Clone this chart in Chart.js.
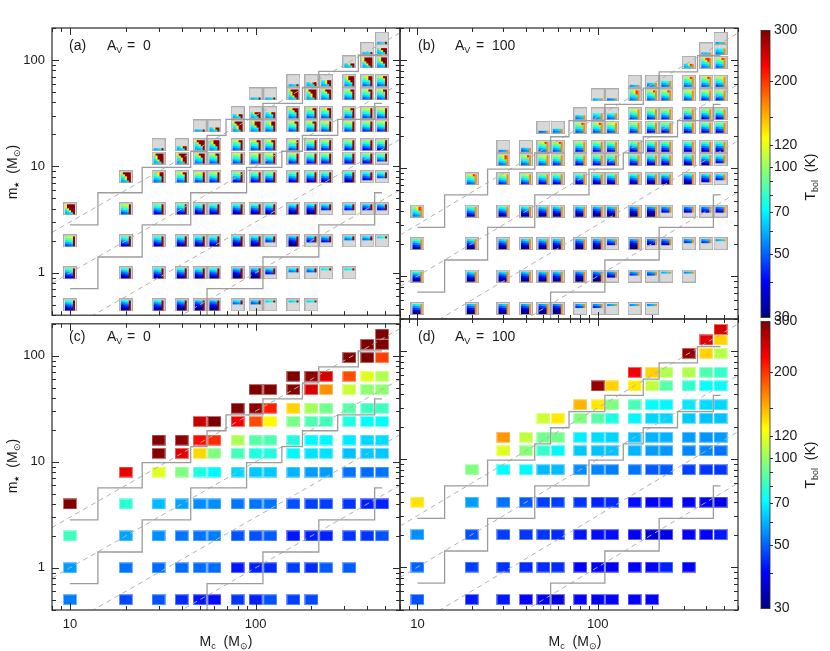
<!DOCTYPE html>
<html lang="en">
<head>
<meta charset="UTF-8">
<title>Tbol grid</title>
<script src="https://cdn.jsdelivr.net/npm/chart.js"></script>
<style>
  body { margin: 0; background: #fff; }
  #wrap { position: relative; width: 830px; height: 651px; font-family: "Liberation Sans", Arial, sans-serif; color: #1a1a1a; }
  canvas { position: absolute; }
  .lbl { position: absolute; font-size: 14px; line-height: 16px; white-space: nowrap; z-index: 5; }
  .lbl sub { font-size: 9px; vertical-align: -3px; line-height: 0; }
  .ttl { position: absolute; width: 120px; height: 20px; line-height: 20px; text-align: center; font-size: 14px; white-space: nowrap; z-index: 5; }
  .ttl sub { font-size: 9px; vertical-align: -3px; line-height: 0; }
  .ttl sub.star { font-size: 7px; vertical-align: -2px; }
  .rot { transform: rotate(-90deg); }
</style>
</head>
<body>
<div id="wrap">
  <canvas id="pa" width="410" height="330" style="left:0;top:0"></canvas>
  <canvas id="pb" width="370" height="330" style="left:390px;top:0"></canvas>
  <canvas id="pc" width="410" height="342" style="left:0;top:309px"></canvas>
  <canvas id="pd" width="370" height="342" style="left:390px;top:309px"></canvas>
  <canvas id="cb1" width="78" height="312" style="left:752px;top:18px"></canvas>
  <canvas id="cb2" width="78" height="312" style="left:752px;top:309px"></canvas>

  <div class="lbl" style="left:69px;top:37px">(a)</div>
  <div class="lbl" style="left:107px;top:37px">A<sub>V</sub></div>
  <div class="lbl" style="left:127px;top:37px">=</div>
  <div class="lbl" style="left:143px;top:37px">0</div>
  <div class="lbl" style="left:418px;top:37px">(b)</div>
  <div class="lbl" style="left:455px;top:37px">A<sub>V</sub></div>
  <div class="lbl" style="left:476px;top:37px">=</div>
  <div class="lbl" style="left:492px;top:37px">100</div>
  <div class="lbl" style="left:69px;top:328px">(c)</div>
  <div class="lbl" style="left:107px;top:328px">A<sub>V</sub></div>
  <div class="lbl" style="left:127px;top:328px">=</div>
  <div class="lbl" style="left:143px;top:328px">0</div>
  <div class="lbl" style="left:418px;top:328px">(d)</div>
  <div class="lbl" style="left:455px;top:328px">A<sub>V</sub></div>
  <div class="lbl" style="left:476px;top:328px">=</div>
  <div class="lbl" style="left:492px;top:328px">100</div>

  <div class="ttl" style="left:166px;top:631px">M<sub>c</sub>&nbsp; (M<sub>⊙</sub>)</div>
  <div class="ttl" style="left:515px;top:631px">M<sub>c</sub>&nbsp; (M<sub>⊙</sub>)</div>
  <div class="ttl rot" style="left:-48px;top:162px">m<sub class="star">★</sub>&nbsp; (M<sub>⊙</sub>)</div>
  <div class="ttl rot" style="left:-48px;top:456px">m<sub class="star">★</sub>&nbsp; (M<sub>⊙</sub>)</div>
  <div class="ttl rot" style="left:750px;top:167px">T<sub>bol</sub>&nbsp; (K)</div>
  <div class="ttl rot" style="left:750px;top:455px">T<sub>bol</sub>&nbsp; (K)</div>
</div>

<script>
// grid of models
const massCore = [10, 20, 30, 40, 50, 60, 80, 100, 120, 160, 200, 240, 320, 400, 480];
const massStar = [0.5, 1, 2, 4, 8, 12, 16, 24, 32, 48, 64, 96, 128, 160];
// lowest / highest m* present in each Mc column
const rowFirst = [0.5, 0.5, 0.5, 0.5, 0.5, 0.5, 0.5, 0.5, 0.5, 0.5, 0.5, 1, 1, 2, 2];
const rowLast = [4, 8, 16, 16, 24, 24, 32, 48, 48, 64, 64, 64, 96, 128, 160];

// Tbol (K) per Mc column, from lowest to highest m*
const tbolAv0 = [
  [53, 57, 82, 300],
  [47, 52, 58, 78, 235],
  [48, 51, 55, 61, 118, 295, 295],
  [44, 51, 52, 58, 95, 240, 290],
  [42, 51, 52, 55, 76, 138, 220, 255],
  [41, 51, 53, 55, 70, 95, 205, 300],
  [45, 42, 48, 52, 65, 83, 105, 230, 300],
  [43, 43, 48, 52, 63, 76, 87, 190, 290, 300],
  [48, 44, 49, 52, 63, 76, 85, 128, 210, 300],
  [46, 46, 42, 48, 60, 70, 76, 93, 140, 295, 300],
  [47, 44, 43, 46, 57, 67, 70, 85, 103, 245, 290],
  [49, 43, 46, 57, 67, 70, 82, 92, 162, 245],
  [49, 45, 45, 52, 62, 68, 76, 87, 112, 190, 300],
  [45, 43, 51, 63, 65, 71, 82, 98, 118, 300, 300],
  [48, 43, 52, 63, 66, 71, 82, 98, 106, 195, 300, 300]
];
const tbolAv100 = [
  [48, 50, 55, 135],
  [42, 46, 48, 57, 95],
  [42, 45, 46, 52, 71, 118, 160],
  [40, 44, 45, 49, 70, 97, 110],
  [39, 44, 45, 46, 61, 80, 92, 113],
  [37, 44, 44, 46, 61, 70, 92, 132],
  [40, 40, 42, 45, 55, 63, 69, 95, 150],
  [39, 39, 41, 43, 54, 62, 66, 87, 133, 285],
  [40, 39, 41, 44, 53, 62, 65, 76, 95, 140],
  [40, 40, 39, 41, 52, 60, 62, 70, 84, 133, 230],
  [40, 40, 37, 40, 49, 57, 60, 65, 71, 110, 140],
  [43, 38, 41, 49, 56, 60, 65, 70, 87, 106],
  [40, 40, 39, 46, 54, 57, 63, 68, 79, 106, 285],
  [40, 39, 45, 54, 56, 62, 66, 72, 85, 140, 240],
  [42, 38, 45, 52, 57, 62, 65, 71, 80, 107, 140, 245]
];

// time-sampled cells only partly covered: [Mc, m*, rows of 5, side]
const partialCells = [
  [30, 16, 1, 'bottom'], [40, 16, 2, 'bottom'], [50, 24, 1, 'bottom'], [60, 24, 2, 'bottom'],
  [80, 32, 2, 'bottom'], [100, 32, 3, 'bottom'], [120, 32, 3, 'bottom'], [100, 48, 1, 'bottom'],
  [120, 48, 1, 'bottom'], [160, 64, 1, 'bottom'], [200, 64, 2, 'bottom'], [240, 64, 3, 'bottom'],
  [320, 96, 2, 'bottom'], [400, 128, 1, 'bottom'], [480, 160, 1, 'bottom'], [480, 128, 3, 'bottom'],
  [80, 0.5, 2, 'top'], [100, 0.5, 2, 'top'], [120, 0.5, 1, 'top'], [160, 0.5, 1, 'top'], [200, 0.5, 1, 'top'],
  [120, 1, 3, 'top'], [160, 1, 2, 'top'], [200, 1, 2, 'top'], [240, 1, 1, 'top'], [320, 1, 1, 'top'],
  [120, 2, 3, 'top'], [200, 2, 3, 'top'], [240, 2, 3, 'top'], [320, 2, 2, 'top'], [400, 2, 2, 'top'], [480, 2, 1, 'top'],
  [240, 4, 3, 'top'], [320, 4, 3, 'top'], [400, 4, 3, 'top'], [480, 4, 3, 'top'],
  [400, 8, 4, 'top'], [480, 8, 3, 'top'], [480, 12, 4, 'top']
];

// stepped boundaries (m* level per Mc column)
const stairUpper = [2.83, 5.66, 9.8, 9.8, 13.9, 19.6, 27.7, 27.7, 39.2, 39.2, 55.4, 78.4, 78.4, 110.9, 110.9];
const stairMiddle = [0.71, 1.41, 2.83, 2.83, 5.66, 5.66, 5.66, 9.8, 9.8, 13.9, 19.6, 19.6, 27.7, 27.7, 39.2];
const stairLower = [0.35, 0.35, 0.35, 0.35, 0.35, 0.71, 0.71, 0.71, 1.41, 1.41, 1.41, 2.83, 2.83, 2.83, 5.66];
// dashed lines m* = eff * Mc
const effLines = [0.3, 0.1, 0.03, 0.01];

const xRange = [8, 600];
const yRange = [0.4, 200];
const xLabels = [10, 100];
const yLabels = [1, 10, 100];
const cbarRange = [30, 300];
const cbarLabels = [30, 50, 70, 100, 120, 200, 300];
const cbarMinor = [40, 60, 80, 90, 150];

const FONT = "'Liberation Sans', Arial, sans-serif";

function clamp(v) { return Math.max(0, Math.min(1, v)); }
function jet(u) {
  return [clamp(1.5 - Math.abs(4 * u - 3)), clamp(1.5 - Math.abs(4 * u - 2)), clamp(1.5 - Math.abs(4 * u - 1))]
    .map(v => Math.round(v * 255));
}
function rgb(c) { return 'rgb(' + c.join(',') + ')'; }
function tpos(t) { return clamp(Math.log(t / cbarRange[0]) / Math.log(cbarRange[1] / cbarRange[0])); }

function cellsFor(tbol) {
  const pts = [], temps = [];
  massCore.forEach((mc, k) => {
    const rows = massStar.filter(m => m >= rowFirst[k] && m <= rowLast[k]);
    rows.forEach((ms, r) => { pts.push({x: mc, y: ms}); temps.push(tbol[k][r]); });
  });
  return {pts, temps};
}

const fillMap = {};
partialCells.forEach(p => { fillMap[p[0] + '|' + p[1]] = {n: p[2], side: p[3]}; });

function squareCell(t) {
  const c = document.createElement('canvas');
  c.width = 14; c.height = 11;
  const g = c.getContext('2d');
  const col = jet(tpos(t));
  g.fillStyle = rgb(col);
  g.fillRect(0, 0, 14, 11);
  g.strokeStyle = rgb(col.map(v => Math.round(v + (255 - v) * 0.45)));
  g.strokeRect(0.5, 0.5, 13, 10);
  return c;
}

// small time-sampled map drawn inside a grey box
function miniCell(t0, fill, av) {
  const c = document.createElement('canvas');
  c.width = 14; c.height = 13;
  const g = c.getContext('2d');
  g.fillStyle = '#d8d8d8';
  g.fillRect(0, 0, 14, 13);
  g.strokeStyle = '#acacac';
  g.strokeRect(0.5, 0.5, 13, 12);
  const u0 = tpos(t0), w = Math.max(0, (u0 - 0.35) / 0.65);
  const hotU = av === 0 ? 1 : 0.84, edgeU = av === 0 ? 0.98 : 0.74;
  const step = 0.09 - 0.05 * w;
  for (let i = 0; i < 5; i++) {
    const shown = fill.side === 'top' ? i < fill.n : i >= 5 - fill.n;
    if (!shown) continue;
    const base = Math.min(u0, 0.4) + step * (1.5 - i);
    const nHot = Math.max(0, Math.min(3, Math.round(w * 3.2 - i * 0.7)));
    for (let j = 0; j < 5; j++) {
      let u;
      if (j === 4) u = edgeU;
      else if (j >= 4 - nHot) u = hotU;
      else if (nHot > 0 && j === 3 - nHot) u = 0.64;
      else u = base + 0.02 * j;
      g.fillStyle = rgb(jet(clamp(u)));
      g.fillRect(2 + j * 2, 2 + i * 2, 2, 2);
    }
  }
  return c;
}

function logSteps(min, max) {
  const out = [];
  for (let e = Math.floor(Math.log10(min)); e <= Math.ceil(Math.log10(max)); e++) {
    for (let m = 1; m <= 9; m++) {
      const v = m * Math.pow(10, e);
      if (v >= min * 0.999 && v <= max * 1.001) out.push({v, major: m === 1});
    }
  }
  return out;
}

const frameTicks = {
  id: 'frameTicks',
  afterDraw(chart) {
    const {ctx, chartArea: a} = chart;
    const xs = chart.scales.x, ys = chart.scales.y;
    ctx.save();
    ctx.strokeStyle = '#2a2a2a';
    ctx.lineWidth = 1;
    ctx.beginPath();
    logSteps(xs.min, xs.max).forEach(t => {
      const px = Math.round(xs.getPixelForValue(t.v)) + 0.5, len = t.major ? 7 : 4;
      ctx.moveTo(px, a.top); ctx.lineTo(px, a.top + len);
      ctx.moveTo(px, a.bottom); ctx.lineTo(px, a.bottom - len);
    });
    logSteps(ys.min, ys.max).forEach(t => {
      const py = Math.round(ys.getPixelForValue(t.v)) + 0.5, len = t.major ? 7 : 4;
      ctx.moveTo(a.left, py); ctx.lineTo(a.left + len, py);
      ctx.moveTo(a.right, py); ctx.lineTo(a.right - len, py);
    });
    ctx.stroke();
    ctx.lineWidth = 1.2;
    ctx.strokeRect(a.left, a.top, a.right - a.left, a.bottom - a.top);
    ctx.restore();
  }
};

function makePanel(id, tbol, mini, av, showX, showY, pad) {
  const cells = cellsFor(tbol);
  const imgs = cells.temps.map((t, i) => {
    const p = cells.pts[i];
    return mini ? miniCell(t, fillMap[p.x + '|' + p.y] || {n: 5, side: 'top'}, av) : squareCell(t);
  });
  const datasets = [];
  [stairUpper, stairMiddle, stairLower].forEach(levels => datasets.push({
    type: 'line',
    data: massCore.map((mc, k) => ({x: mc, y: levels[k]})),
    borderColor: '#9c9c9c', borderWidth: 1.3, pointRadius: 0, stepped: 'middle', fill: false, clip: 0
  }));
  effLines.forEach(e => datasets.push({
    type: 'line',
    data: [{x: xRange[0], y: e * xRange[0]}, {x: xRange[1], y: e * xRange[1]}],
    borderColor: '#b2b2b2', borderWidth: 1, borderDash: [5, 4], pointRadius: 0, fill: false, clip: 0
  }));
  datasets.push({
    type: 'scatter',
    data: cells.pts,
    pointStyle: c => imgs[c.dataIndex],
    pointRadius: 7,
    clip: 0
  });

  const xScale = {
    type: 'logarithmic', min: xRange[0], max: xRange[1], display: showX,
    grid: {display: false, drawTicks: false}, border: {display: false},
    afterBuildTicks: s => { s.ticks = xLabels.map(v => ({value: v})); },
    ticks: {padding: 7, color: '#1a1a1a', font: {family: FONT, size: 13}, maxRotation: 0, autoSkip: false, callback: v => String(v)}
  };
  if (showX) xScale.afterFit = s => { s.height = 41; };
  const yScale = {
    type: 'logarithmic', min: yRange[0], max: yRange[1], display: showY,
    grid: {display: false, drawTicks: false}, border: {display: false},
    afterBuildTicks: s => { s.ticks = yLabels.map(v => ({value: v})); },
    ticks: {padding: 7, color: '#1a1a1a', font: {family: FONT, size: 13}, autoSkip: false, callback: v => String(v)}
  };
  if (showY) yScale.afterFit = s => { s.width = 52; };

  new Chart(document.getElementById(id), {
    type: 'scatter',
    data: {datasets},
    options: {
      responsive: false, animation: false, events: [],
      layout: {padding: pad},
      plugins: {legend: {display: false}, tooltip: {enabled: false}},
      scales: {x: xScale, y: yScale}
    },
    plugins: [frameTicks]
  });
}

const cbarFrame = {
  id: 'cbarFrame',
  afterDraw(chart) {
    const {ctx, chartArea: a} = chart;
    const ys = chart.scales.y;
    ctx.save();
    ctx.strokeStyle = '#2a2a2a';
    ctx.lineWidth = 1;
    ctx.beginPath();
    cbarLabels.concat(cbarMinor).forEach(v => {
      const py = Math.round(ys.getPixelForValue(v)) + 0.5;
      if (v === cbarRange[0] || v === cbarRange[1]) return;
      ctx.moveTo(a.right, py); ctx.lineTo(a.right + 3, py);
    });
    ctx.stroke();
    ctx.lineWidth = 0.8;
    ctx.strokeRect(a.left, a.top, a.right - a.left, a.bottom - a.top);
    ctx.restore();
  }
};

function makeColorbar(id) {
  new Chart(document.getElementById(id), {
    type: 'bar',
    data: {
      labels: ['Tbol'],
      datasets: [{
        data: [[cbarRange[0], cbarRange[1]]],
        backgroundColor: c => {
          const chart = c.chart;
          if (!chart.chartArea) return '#000';
          const ys = chart.scales.y;
          const g = chart.ctx.createLinearGradient(0, ys.getPixelForValue(cbarRange[0]), 0, ys.getPixelForValue(cbarRange[1]));
          for (let k = 0; k <= 8; k++) g.addColorStop(k / 8, rgb(jet(k / 8)));
          return g;
        },
        borderWidth: 0, barPercentage: 1, categoryPercentage: 1
      }]
    },
    options: {
      responsive: false, animation: false, events: [],
      layout: {padding: {left: 9, top: 12, bottom: 12, right: 0}},
      plugins: {legend: {display: false}, tooltip: {enabled: false}},
      scales: {
        x: {display: false},
        y: {
          type: 'logarithmic', position: 'right', min: cbarRange[0], max: cbarRange[1],
          grid: {display: false, drawTicks: false}, border: {display: false},
          afterBuildTicks: s => { s.ticks = cbarLabels.map(v => ({value: v})); },
          afterFit: s => { s.width = 60; },
          ticks: {padding: 4, color: '#1a1a1a', font: {family: FONT, size: 14}, autoSkip: false, callback: v => String(v)}
        }
      }
    },
    plugins: [cbarFrame]
  });
}

makePanel('pa', tbolAv0, true, 0, false, true, {left: 0, top: 28, right: 10, bottom: 11});
makePanel('pb', tbolAv100, true, 100, false, false, {left: 10, top: 28, right: 22, bottom: 11});
makePanel('pc', tbolAv0, false, 0, true, true, {left: 0, top: 10, right: 10, bottom: 0});
makePanel('pd', tbolAv100, false, 100, true, false, {left: 10, top: 10, right: 22, bottom: 0});
makeColorbar('cb1');
makeColorbar('cb2');
</script>
</body>
</html>
